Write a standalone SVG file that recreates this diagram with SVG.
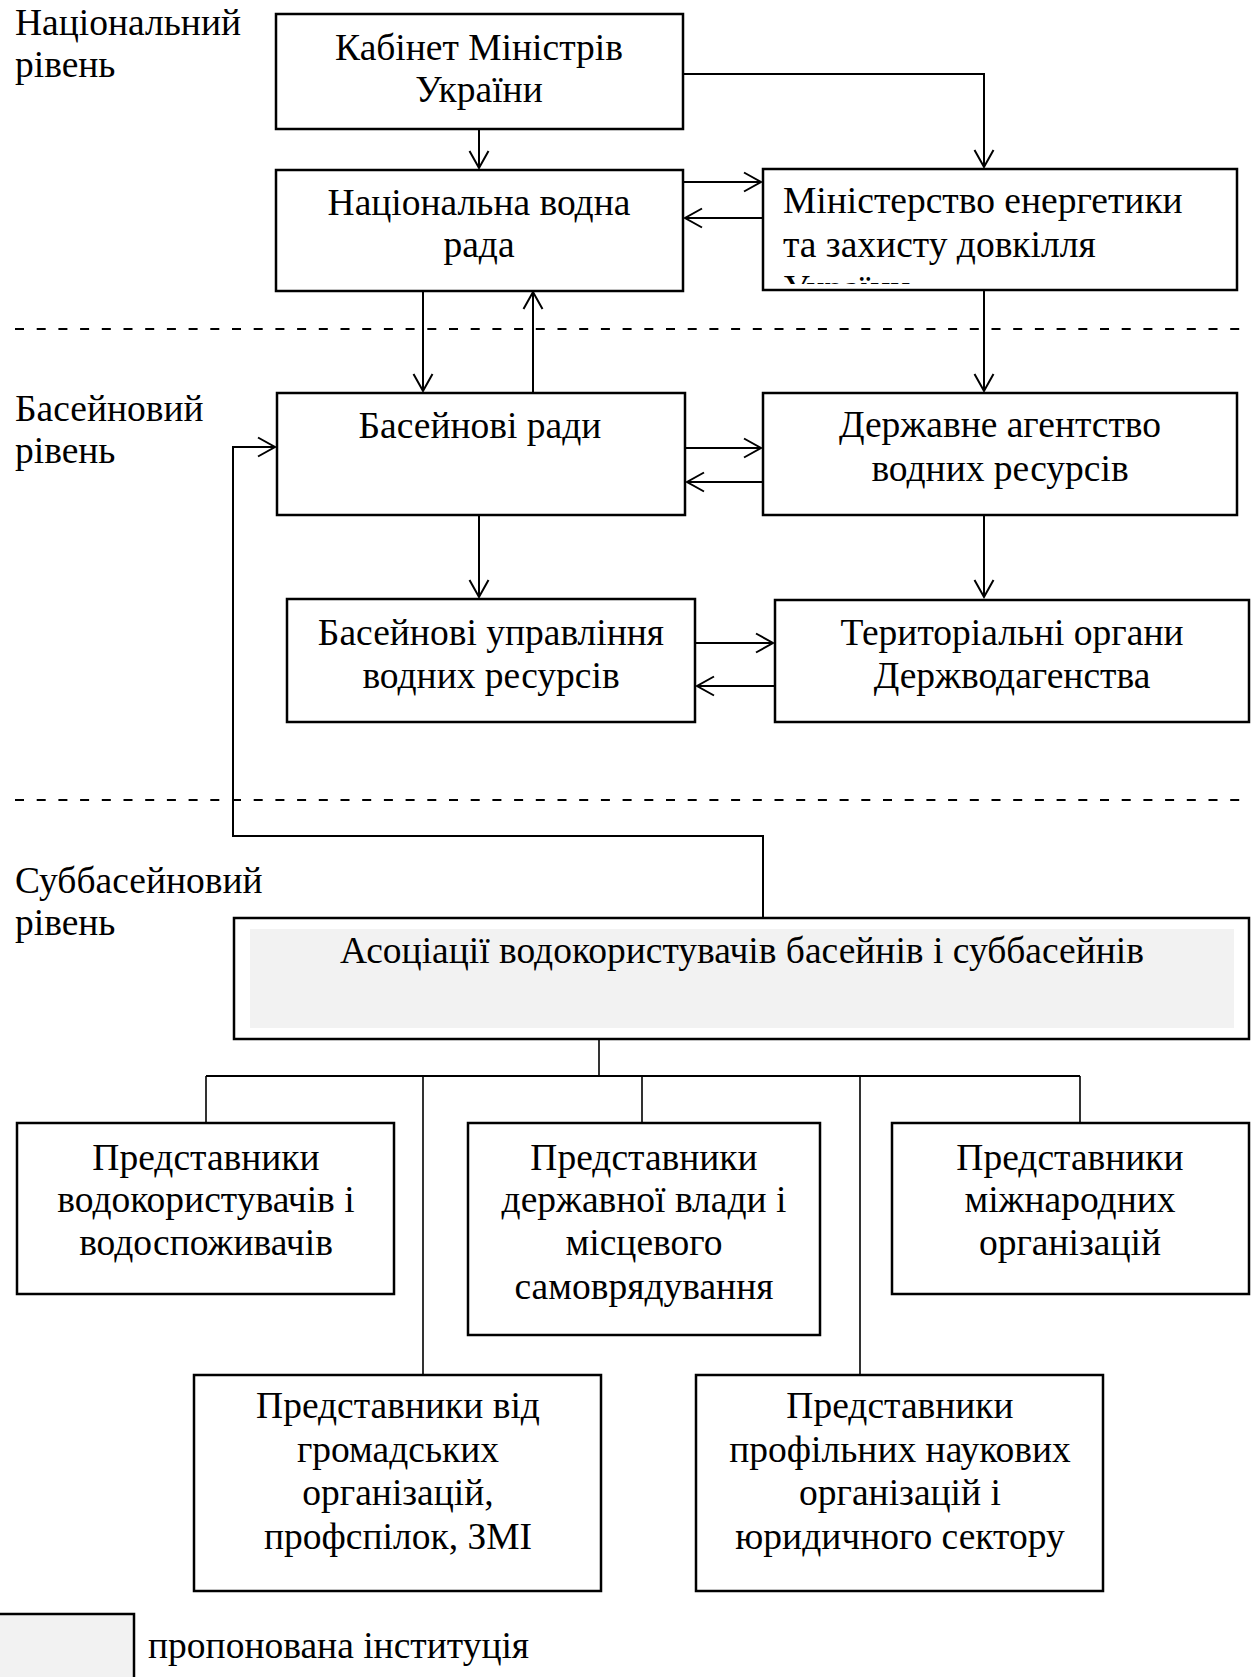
<svg xmlns="http://www.w3.org/2000/svg" width="1254" height="1677" viewBox="0 0 1254 1677">
<style>
text{font-family:"Liberation Serif","Times New Roman",serif;font-size:37.5px;fill:#000}
.c{text-anchor:middle}
.box{fill:#fff;stroke:#000;stroke-width:2.5}
.prop{fill:#f2f2f2;stroke:none}
.ln{fill:none;stroke:#000;stroke-width:2}
.thin{fill:none;stroke:#000;stroke-width:1.6}
.dash{fill:none;stroke:#000;stroke-width:2;stroke-dasharray:9 12.7}
</style>
<defs>
<marker id="ah" markerUnits="userSpaceOnUse" markerWidth="24" markerHeight="24" viewBox="-20 -12 24 24" refX="0" refY="0" orient="auto">
<path d="M-17,-9.5 L0,0 L-17,9.5" fill="none" stroke="#000" stroke-width="2"/>
</marker>
<clipPath id="minclip"><rect x="764" y="170" width="472" height="114"/></clipPath>
</defs>

<g id="levels">
<text x="15" y="35">Національний</text>
<text x="15" y="77">рівень</text>
<text x="15" y="421">Басейновий</text>
<text x="15" y="463">рівень</text>
<text x="15" y="893">Суббасейновий</text>
<text x="15" y="935">рівень</text>
<line class="dash" x1="15" y1="329" x2="1250" y2="329"/>
<line class="dash" x1="15" y1="800" x2="1250" y2="800"/>
</g>

<g id="connectors">
<path class="ln" d="M479,130 V168" marker-end="url(#ah)"/>
<path class="ln" d="M683,74 H984 V167" marker-end="url(#ah)"/>
<path class="ln" d="M683,182 H761" marker-end="url(#ah)"/>
<path class="ln" d="M763,218 H685" marker-end="url(#ah)"/>
<path class="ln" d="M423,291 V391" marker-end="url(#ah)"/>
<path class="ln" d="M533,393 V292" marker-end="url(#ah)"/>
<path class="ln" d="M984,290 V391" marker-end="url(#ah)"/>
<path class="ln" d="M685,448 H761" marker-end="url(#ah)"/>
<path class="ln" d="M763,482 H687" marker-end="url(#ah)"/>
<path class="ln" d="M479,515 V597" marker-end="url(#ah)"/>
<path class="ln" d="M984,515 V597" marker-end="url(#ah)"/>
<path class="ln" d="M695,643 H773" marker-end="url(#ah)"/>
<path class="ln" d="M775,686 H697" marker-end="url(#ah)"/>
<path class="ln" d="M763,917 V836 H233 V447 H275" marker-end="url(#ah)"/>
<path class="thin" d="M599,1039 V1075"/>
<path class="ln" d="M206,1076 H1080"/>
<path class="thin" d="M206,1076 V1122 M642,1076 V1122 M1080,1076 V1122 M423,1076 V1375 M860,1076 V1375"/>
</g>

<g id="cabinet">
<rect class="box" x="276" y="14" width="407" height="115"/>
<text class="c" x="479" y="60">Кабінет Міністрів</text>
<text class="c" x="479" y="102">України</text>
</g>

<g id="national-water-council">
<rect class="box" x="276" y="170" width="407" height="121"/>
<text class="c" x="479" y="215">Національна водна</text>
<text class="c" x="479" y="257">рада</text>
</g>

<g id="ministry">
<rect class="box" x="763" y="169" width="474" height="121"/>
<g clip-path="url(#minclip)">
<text x="783" y="213">Міністерство енергетики</text>
<text x="783" y="257">та захисту довкілля</text>
<text x="783" y="301">України</text>
</g>
</g>

<g id="basin-councils">
<rect class="box" x="277" y="393" width="408" height="122"/>
<text class="c" x="480" y="438">Басейнові ради</text>
</g>

<g id="state-agency">
<rect class="box" x="763" y="393" width="474" height="122"/>
<text class="c" x="1000" y="437">Державне агентство</text>
<text class="c" x="1000" y="481">водних ресурсів</text>
</g>

<g id="basin-management">
<rect class="box" x="287" y="599" width="408" height="123"/>
<text class="c" x="491" y="645">Басейнові управління</text>
<text class="c" x="491" y="688">водних ресурсів</text>
</g>

<g id="territorial">
<rect class="box" x="775" y="600" width="474" height="122"/>
<text class="c" x="1012" y="645">Територіальні органи</text>
<text class="c" x="1012" y="688">Держводагенства</text>
</g>

<g id="associations">
<rect class="box" x="234" y="918" width="1015" height="121"/>
<rect class="prop" x="250" y="929" width="984" height="99"/>
<text class="c" x="742" y="963">Асоціації водокористувачів басейнів і суббасейнів</text>
</g>

<g id="rep-users">
<rect class="box" x="17" y="1123" width="377" height="171"/>
<text class="c" x="206" y="1170">Представники</text>
<text class="c" x="206" y="1212">водокористувачів і</text>
<text class="c" x="206" y="1255">водоспоживачів</text>
</g>

<g id="rep-government">
<rect class="box" x="468" y="1123" width="352" height="212"/>
<text class="c" x="644" y="1170">Представники</text>
<text class="c" x="644" y="1212">державної влади і</text>
<text class="c" x="644" y="1255">місцевого</text>
<text class="c" x="644" y="1299">самоврядування</text>
</g>

<g id="rep-international">
<rect class="box" x="892" y="1123" width="357" height="171"/>
<text class="c" x="1070" y="1170">Представники</text>
<text class="c" x="1070" y="1212">міжнародних</text>
<text class="c" x="1070" y="1255">організацій</text>
</g>

<g id="rep-public">
<rect class="box" x="194" y="1375" width="407" height="216"/>
<text class="c" x="398" y="1418">Представники від</text>
<text class="c" x="398" y="1462">громадських</text>
<text class="c" x="398" y="1505">організацій,</text>
<text class="c" x="398" y="1549">профспілок, ЗМІ</text>
</g>

<g id="rep-science">
<rect class="box" x="696" y="1375" width="407" height="216"/>
<text class="c" x="900" y="1418">Представники</text>
<text class="c" x="900" y="1462">профільних наукових</text>
<text class="c" x="900" y="1505">організацій і</text>
<text class="c" x="900" y="1549">юридичного сектору</text>
</g>

<g id="legend">
<rect x="-2" y="1614" width="136" height="70" fill="#f2f2f2" stroke="#000" stroke-width="2.5"/>
<text x="148" y="1658">пропонована інституція</text>
</g>
</svg>
